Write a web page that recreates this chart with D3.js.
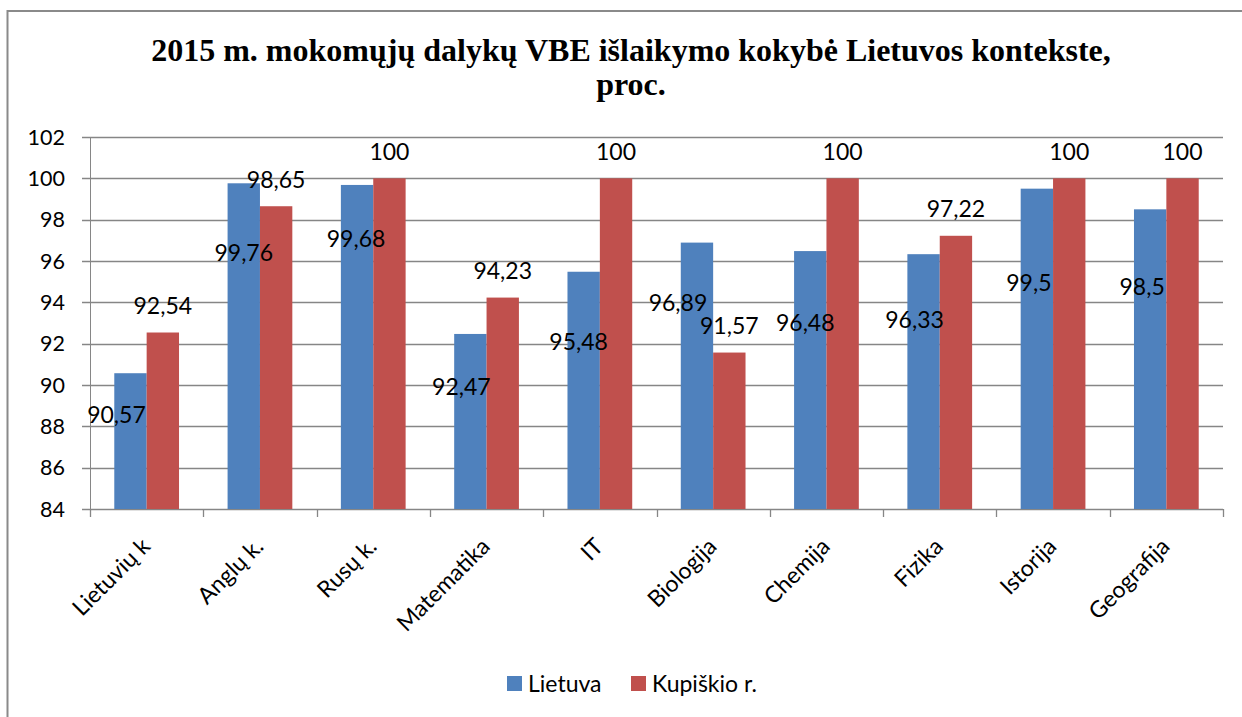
<!DOCTYPE html>
<html>
<head>
<meta charset="utf-8">
<script src="https://cdn.jsdelivr.net/npm/d3@7"></script>
<style>
  body { margin: 0; background: #fff; }
  svg { display: block; }
  text { font-family: Lato, "Open Sans", sans-serif; fill: #000; }
</style>
</head>
<body>
<svg id="chart" width="1242" height="717"></svg>
<script>
var categories = ['Lietuvių k', 'Anglų k.', 'Rusų k.', 'Matematika', 'IT', 'Biologija', 'Chemija', 'Fizika', 'Istorija', 'Geografija'];
var seriesNames = ['Lietuva', 'Kupiškio r.'];
var lietuva = [90.57, 99.76, 99.68, 92.47, 95.48, 96.89, 96.48, 96.33, 99.5, 98.5];
var kupiskio = [92.54, 98.65, 100, 94.23, 100, 91.57, 100, 97.22, 100, 100];
var yTicks = [84, 86, 88, 90, 92, 94, 96, 98, 100, 102];
// the Lietuva labels were dragged around by hand in the original, read where they sit (in axis units)
var lietuvaLabelAt = [88.55, 96.38, 97.1, 89.9, 92.08, 93.97, 93.0, 93.14, 94.93, 94.74];
var lietuvaLabelShift = [-14, 0, -1, -9, -5, -19, -5, -9, -8, -8];

var colors = ['#4f81bd', '#c0504d'];
var fmt = function(v) { return String(v).replace('.', ','); };

var svg = d3.select('#chart');
var margin = { left: 90, right: 1223, top: 137, bottom: 509 };

// outer chart frame
svg.append('rect')
  .attr('x', 7.5).attr('y', 11)
  .attr('width', 1400).attr('height', 900)
  .attr('fill', 'none')
  .attr('stroke', '#8a8a8a')
  .attr('stroke-width', 2);

var title = svg.append('text')
  .attr('text-anchor', 'middle')
  .style('font-family', '"Liberation Serif", "Times New Roman", serif')
  .style('font-weight', 'bold')
  .style('font-size', '32px');
title.append('tspan').attr('x', 631).attr('y', 61).text('2015 m. mokomųjų dalykų VBE išlaikymo kokybė Lietuvos kontekste,');
title.append('tspan').attr('x', 631).attr('y', 95).text('proc.');

var x = d3.scaleBand()
  .domain(categories)
  .range([margin.left, margin.right]);

// gap width 150% like the Excel default
var x1 = d3.scaleBand()
  .domain(seriesNames)
  .range([x.bandwidth() * 0.2143, x.bandwidth() * 0.7857]);

var y = d3.scaleLinear()
  .domain([84, 102])
  .range([margin.bottom, margin.top]);

// gridlines
svg.append('g')
  .selectAll('line')
  .data(yTicks)
  .enter().append('line')
    .attr('x1', margin.left - 8)
    .attr('x2', margin.right)
    .attr('y1', function(d) { return Math.round(y(d)) + 0.5; })
    .attr('y2', function(d) { return Math.round(y(d)) + 0.5; })
    .attr('stroke', '#868686')
    .attr('stroke-width', 1.3);

// y axis line
svg.append('line')
  .attr('x1', margin.left + 0.5).attr('x2', margin.left + 0.5)
  .attr('y1', margin.top).attr('y2', margin.bottom)
  .attr('stroke', '#868686');

svg.append('g')
  .selectAll('text')
  .data(yTicks)
  .enter().append('text')
    .attr('x', 65)
    .attr('y', function(d) { return y(d); })
    .attr('dy', '0.36em')
    .attr('text-anchor', 'end')
    .style('font-size', '21.5px')
    .text(function(d) { return d; });

// x axis ticks on category boundaries
var bounds = categories.map(function(c) { return x(c); }).concat([margin.right]);
svg.append('g')
  .selectAll('line')
  .data(bounds)
  .enter().append('line')
    .attr('x1', function(d) { return Math.round(d) + 0.5; })
    .attr('x2', function(d) { return Math.round(d) + 0.5; })
    .attr('y1', margin.bottom)
    .attr('y2', margin.bottom + 8)
    .attr('stroke', '#868686')
    .attr('stroke-width', 1.3);

var rows = categories.map(function(c, i) {
  return { cat: c, i: i, vals: [lietuva[i], kupiskio[i]] };
});

var groups = svg.append('g')
  .selectAll('g')
  .data(rows)
  .enter().append('g')
    .attr('transform', function(d) { return 'translate(' + x(d.cat) + ',0)'; });

groups.selectAll('rect')
  .data(function(d) { return d.vals.map(function(v, k) { return { name: seriesNames[k], v: v, k: k }; }); })
  .enter().append('rect')
    .attr('x', function(d) { return x1(d.name); })
    .attr('width', x1.bandwidth())
    .attr('y', function(d) { return y(d.v); })
    .attr('height', function(d) { return y(84) - y(d.v); })
    .attr('fill', function(d) { return colors[d.k]; });

// Kupiškio labels, outside end
groups.append('text')
  .attr('x', x1('Kupiškio r.') + x1.bandwidth() / 2)
  .attr('y', function(d) { return y(d.vals[1]) - 27; })
  .attr('dy', '0.36em')
  .attr('text-anchor', 'middle')
  .style('font-size', '23px')
  .text(function(d) { return fmt(d.vals[1]); });

// Lietuva labels
groups.append('text')
  .attr('x', function(d) { return x1('Lietuva') + x1.bandwidth() / 2 + lietuvaLabelShift[d.i]; })
  .attr('y', function(d) { return y(lietuvaLabelAt[d.i]); })
  .attr('dy', '0.36em')
  .attr('text-anchor', 'middle')
  .style('font-size', '23px')
  .text(function(d) { return fmt(d.vals[0]); });

// category labels
svg.append('g')
  .selectAll('text')
  .data(categories)
  .enter().append('text')
    .attr('transform', function(d) { return 'translate(' + (x(d) + x.bandwidth() / 2 - 1) + ',' + (margin.bottom + 33) + ') rotate(-45)'; })
    .attr('text-anchor', 'end')
    .attr('dy', '0.36em')
    .style('font-size', '23px')
    .text(function(d) { return d; });

// legend
var legendX = [507, 631];
var legend = svg.append('g')
  .selectAll('g')
  .data(seriesNames)
  .enter().append('g')
    .attr('transform', function(d, i) { return 'translate(' + legendX[i] + ',676)'; });

legend.append('rect')
  .attr('width', 15).attr('height', 15)
  .attr('fill', function(d, i) { return colors[i]; });

legend.append('text')
  .attr('x', 21)
  .attr('y', 8)
  .attr('dy', '0.36em')
  .style('font-size', '23px')
  .text(function(d) { return d; });
</script>
</body>
</html>
